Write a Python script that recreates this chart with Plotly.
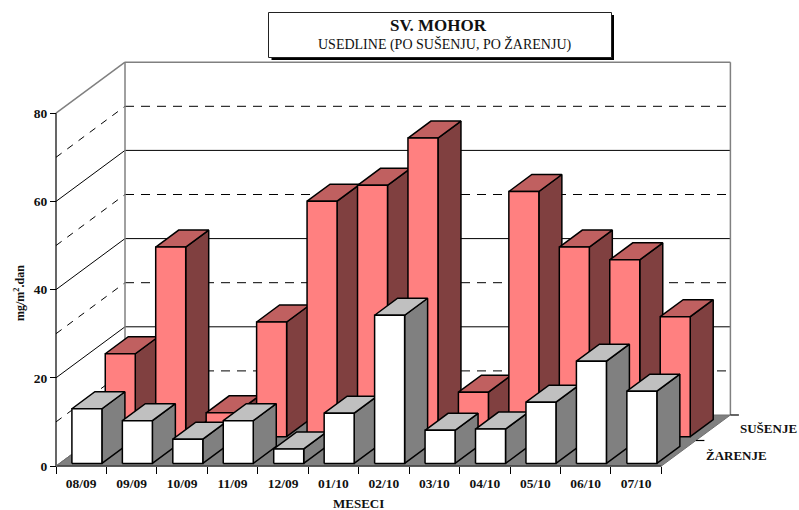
import plotly.graph_objects as go

months = ["08/09","09/09","10/09","11/09","12/09","01/10","02/10","03/10","04/10","05/10","06/10","07/10"]
susenje = [18.8,43.0,5.4,26.0,53.4,57.0,67.7,10.1,55.6,43.0,40.1,27.2]
zarenje = [12.4,9.7,5.5,9.7,3.3,11.4,33.6,7.5,7.8,13.9,23.2,16.4]
value_ticks = [0,20,40,60,80]
minor_grid = [10,30,50,70]
series_names = ["SUŠENJE","ŽARENJE"]

W, H = 799, 510
X0, Y0 = 56, 466          # pixel of category 0 / value 0
PX_CAT, PX_VAL = 50.45, 4.41
DEPTH_X, DEPTH_Y = 69/PX_CAT, 51/PX_VAL
FONT = "Liberation Serif"
N = len(months)

def P(c, v, d=0.0):
    return c + d*DEPTH_X, v + d*DEPTH_Y

fig = go.Figure()

def poly(pts, fill, line="black", width=1.5):
    xs = [p[0] for p in pts] + [pts[0][0]]
    ys = [p[1] for p in pts] + [pts[0][1]]
    fig.add_trace(go.Scatter(x=xs, y=ys, mode="lines", fill="toself", fillcolor=fill,
                             line=dict(color=line, width=width), hoverinfo="skip", showlegend=False))

def seg(a, b, color="black", width=1, dash="solid"):
    fig.add_trace(go.Scatter(x=[a[0], b[0]], y=[a[1], b[1]], mode="lines",
                             line=dict(color=color, width=width, dash=dash),
                             hoverinfo="skip", showlegend=False))

# floor
poly([P(0,0), P(N,0), P(N,0,1), P(0,0,1)], "#808080", "#707070", 1)

# wall grid
top = value_ticks[-1]
for v in value_ticks[1:-1]:
    seg(P(0,v), P(0,v,1)); seg(P(0,v,1), P(N,v,1))
for v in minor_grid:
    seg(P(0,v), P(0,v,1), dash="7px,7px"); seg(P(0,v,1), P(N,v,1), dash="9px,7px")
for a, b in [(P(0,top), P(0,top,1)), (P(0,top,1), P(N,top,1)),
             (P(0,0,1), P(0,top,1)), (P(N,0,1), P(N,top,1))]:
    seg(a, b, "#808080", 1.5)
seg(P(0,0), P(0,top), "black", 1.2)
seg(P(0,0), P(N,0), "#404040", 1.5)
seg(P(0,0), P(0,0,1), "#707070", 1)
# depth ticks
TICK = 8.5/PX_CAT
for d in (0.5, 1.0):
    a = P(N,0,d); seg(a, (a[0]+TICK, a[1]), "black", 1.2)

def bars(values, left, d0, width, depth, front, side, topc):
    for i, v in enumerate(values):
        c0, c1 = i+left, i+left+width
        d1 = d0+depth
        poly([P(c1,0,d0), P(c1,0,d1), P(c1,v,d1), P(c1,v,d0)], side)
        poly([P(c0,v,d0), P(c1,v,d0), P(c1,v,d1), P(c0,v,d1)], topc)
        poly([P(c0,0,d0), P(c1,0,d0), P(c1,v,d0), P(c0,v,d0)], front)

BAR_W = 30/PX_CAT
bars(susenje, 0.19, 0.575, BAR_W, 1/3, "#FF8080", "#804040", "#C06060")
bars(zarenje, 0.247, 0.05, BAR_W, 1/3, "#FFFFFF", "#808080", "#C0C0C0")

def note(px, py, text, size, **kw):
    return dict(x=px/W, y=1-py/H, xref="paper", yref="paper", text=text, showarrow=False,
                xanchor="center", yanchor="middle", font=dict(family=FONT, size=size, color="#111"), **kw)

annotations = [
    note(358, 503, "<b>MESECI</b>", 13),
    note(19, 293, "<b>mg/m<sup>2</sup>.dan</b>", 12, textangle=-90),
    note(438, 25.5, "<b>SV. MOHOR</b>", 17),
    note(444.5, 44, "USEDLINE (PO SUŠENJU, PO ŽARENJU)", 14),
]
for name, d, ys in zip(series_names, (0.75, 0.25), (-1, -2)):
    x, y = P(N, 0, d)
    annotations.append(dict(x=x, y=y, text=f"<b>{name}</b>", showarrow=False, xanchor="left", yanchor="middle",
                            xshift=25, yshift=ys, font=dict(family=FONT, size=13, color="#111")))

shapes = [
    dict(type="rect", xref="paper", yref="paper", x0=271.5/W, x1=614/W, y0=1-15/H, y1=1-60/H,
         fillcolor="black", line=dict(width=0), layer="above"),
    dict(type="rect", xref="paper", yref="paper", x0=268.5/W, x1=611.5/W, y0=1-12.5/H, y1=1-57.5/H,
         fillcolor="white", line=dict(color="#222", width=1), layer="above"),
]

fig.update_layout(
    width=W, height=H, margin=dict(l=0, r=0, t=0, b=0),
    paper_bgcolor="white", plot_bgcolor="white", showlegend=False,
    shapes=shapes, annotations=annotations,
    xaxis=dict(range=[-X0/PX_CAT, (W-X0)/PX_CAT], anchor="free", position=(H-Y0)/H,
               showgrid=False, zeroline=False, showline=False,
               tickvals=[i+0.5 for i in range(N)], ticktext=months, ticks="outside", ticklen=0,
               ticklabelstandoff=5, tickcolor="black",
               minor=dict(tickvals=list(range(N+1)), ticks="outside", ticklen=7, tickcolor="black", tickwidth=1),
               tickfont=dict(family=FONT, size=13.5, color="#111", weight="bold")),
    yaxis=dict(range=[(Y0-H)/PX_VAL, Y0/PX_VAL], anchor="free", position=X0/W,
               showgrid=False, zeroline=False, showline=False,
               tickvals=value_ticks, ticks="outside", ticklen=6, tickcolor="black", tickwidth=1,
               tickfont=dict(family=FONT, size=13.5, color="#111", weight="bold")),
)

fig.write_html("out.html", config=dict(displayModeBar=False),
               post_script="document.body.style.margin='0';")
